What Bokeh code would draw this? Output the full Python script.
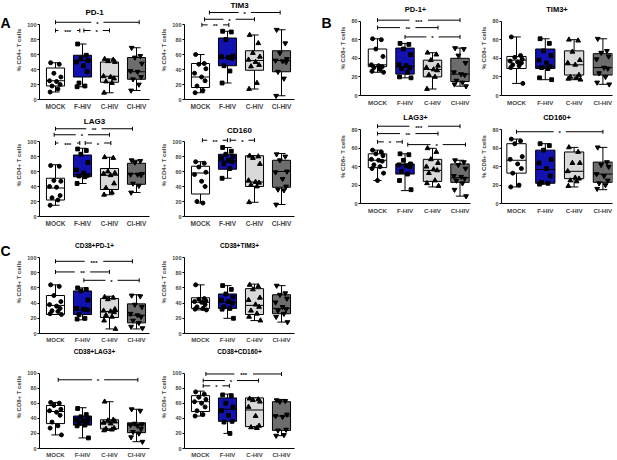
from bokeh.plotting import figure
from bokeh.layouts import row, column
from bokeh.models import Range1d, FixedTicker, GridBox
from bokeh.core.properties import value
from bokeh.embed import file_html
from bokeh.resources import INLINE

# ---------------- data ----------------
CATEGORIES = ["MOCK", "F-HIV", "C-HIV", "CI-HIV"]
PANEL_LETTERS = ["A", "B", "C"]

# box stats per group: [min, q1, median, q3, max]
A_PD1_BOX = [[10, 18, 25, 42, 49], [17, 30, 52, 59, 74], [9, 23, 31, 50, 54], [12, 27, 37, 56, 69]]
A_PD1_POINTS = [[49, 47, 35, 30, 25, 24, 20, 18, 14, 10], [74, 59, 55, 52, 50, 45, 37, 22, 18, 17],
                [54, 53, 51, 50, 31, 30, 28, 24, 22, 9], [69, 58, 56, 48, 38, 37, 30, 27, 20, 12]]
A_PD1_SIG = [(0, 3.1, 103, "*"), (0, 0.9, 92, "***"), (1.05, 2.0, 92, "*")]

A_TIM3_BOX = [[9, 16, 30, 48, 60], [22, 45, 56, 82, 91], [14, 39, 52, 65, 86], [5, 37, 52, 65, 93]]
A_TIM3_POINTS = [[60, 48, 47, 41, 35, 30, 25, 18, 12, 9], [91, 90, 80, 58, 57, 56, 55, 45, 38, 22],
                 [86, 75, 62, 57, 53, 50, 46, 44, 22, 14], [93, 75, 62, 54, 52, 51, 50, 37, 28, 5]]
A_TIM3_SIG = [(0.33, 2.95, 116, "*"), (0.15, 2.0, 107, "*"), (0.05, 1.05, 99.5, "**")]

A_LAG3_BOX = [[15, 22, 38, 51, 69], [44, 53, 56, 82, 91], [29, 36, 55, 64, 79], [32, 43, 57, 71, 75]]
A_LAG3_POINTS = [[68, 67, 48, 47, 40, 39, 28, 25, 22, 15], [90, 88, 83, 72, 62, 58, 55, 54, 53, 44],
                 [79, 78, 60, 58, 57, 55, 44, 38, 32, 29], [75, 74, 72, 57, 56, 56, 55, 44, 41, 32]]
A_LAG3_SIG = [(0, 2.85, 117, "**"), (-0.05, 2.0, 109, "*"), (0, 0.9, 98, "***"), (1.1, 2.05, 98, "*")]

A_CD160_BOX = [[18, 30, 58, 67, 73], [51, 63, 74, 83, 92], [19, 40, 46, 81, 81], [16, 39, 60, 75, 84]]
A_CD160_POINTS = [[73, 71, 66, 59, 56, 47, 40, 20, 18], [92, 87, 83, 80, 78, 75, 73, 70, 64, 51],
                  [81, 80, 78, 70, 48, 46, 45, 42, 40, 19], [83, 80, 75, 60, 59, 50, 40, 36, 35, 16]]
A_CD160_SIG = [(0.07, 1.0, 101.7, "**"), (1.1, 2.0, 101.7, "*")]

B_PD1_BOX = [[25, 31, 33, 50, 61], [19, 23, 31, 51, 56], [7, 20, 28, 38, 46], [10, 15, 23, 40, 51]]
B_PD1_POINTS = [[61, 60, 50, 42, 33, 32, 31, 30, 28, 26, 25], [56, 55, 50, 44, 33, 32, 30, 29, 25, 20, 19],
                [46, 44, 38, 32, 30, 28, 27, 22, 20, 7], [51, 50, 43, 35, 25, 23, 22, 16, 14, 12, 10]]
B_PD1_SIG = [(0, 3.0, 81, "***"), (0, 2.2, 73, "**"), (1.0, 3.0, 63, "*")]

B_TIM3_BOX = [[13, 29, 38, 42, 63], [17, 29, 31, 50, 61], [17, 22, 33, 48, 60], [12, 22, 30, 45, 61]]
B_TIM3_POINTS = [[63, 43, 41, 39, 37, 36, 35, 33, 32, 30, 13], [61, 56, 48, 43, 38, 35, 31, 30, 29, 19, 17],
                 [60, 59, 47, 38, 35, 33, 22, 20, 19, 18, 17], [61, 48, 46, 42, 39, 30, 29, 24, 20, 14, 12]]
B_TIM3_SIG = []

B_LAG3_BOX = [[25, 39, 47, 54, 58], [14, 32, 42, 43, 54], [18, 24, 36, 48, 60], [8, 23, 28, 43, 47]]
B_LAG3_POINTS = [[58, 56, 54, 52, 48, 47, 46, 42, 40, 38, 33, 25], [54, 53, 47, 43, 42, 41, 40, 35, 32, 25, 15],
                 [60, 56, 48, 44, 40, 37, 36, 33, 25, 22, 19], [47, 45, 42, 38, 30, 29, 27, 25, 22, 15, 8]]
B_LAG3_SIG = [(0, 3.0, 84, "***"), (0, 2.2, 76, "**"), (0, 0.9, 67, "*"), (1.1, 3.2, 64, "*")]

B_CD160_BOX = [[18, 33, 47, 65, 70], [21, 22, 37, 58, 65], [18, 27, 35, 56, 61], [15, 23, 32, 45, 61]]
B_CD160_POINTS = [[70, 68, 65, 51, 48, 43, 38, 33, 20, 18], [65, 63, 58, 48, 44, 38, 30, 23, 22, 21],
                  [61, 56, 44, 44, 35, 28, 27, 25, 24, 19], [61, 45, 42, 40, 32, 30, 25, 22, 20, 16]]
B_CD160_SIG = [(0, 3.0, 78, "*")]

C_PD1_BOX = [[25, 25, 37, 50, 64], [18, 25, 31, 56, 60], [6, 21, 29, 46, 49], [6, 14, 24, 39, 51]]
C_PD1_POINTS = [[64, 62, 50, 42, 38, 36, 33, 30, 29, 26, 25], [60, 58, 56, 44, 33, 32, 31, 25, 20, 19],
                [48, 47, 45, 32, 30, 29, 28, 24, 22, 17, 6], [50, 49, 38, 35, 26, 24, 22, 17, 14, 9, 7]]
C_PD1_SIG = [(0, 2.85, 95, "***"), (0, 2.0, 81, "**"), (1.05, 3.1, 70, "*")]

C_TIM3_BOX = [[31, 33, 41, 47, 64], [20, 33, 41, 52, 63], [17, 25, 37, 59, 65], [15, 26, 33, 51, 63]]
C_TIM3_POINTS = [[64, 46, 45, 43, 42, 41, 38, 35, 33, 32, 31], [63, 58, 52, 48, 44, 42, 40, 35, 33, 32, 20],
                 [64, 62, 58, 47, 44, 38, 35, 30, 26, 22, 17], [63, 53, 51, 46, 41, 35, 32, 30, 26, 22, 15]]
C_TIM3_SIG = []

C_LAG3_BOX = [[18, 33, 49, 57, 61], [14, 31, 37, 43, 54], [24, 26, 34, 38, 62], [9, 21, 31, 34, 52]]
C_LAG3_POINTS = [[61, 60, 57, 52, 50, 48, 44, 35, 30, 27, 18], [53, 45, 42, 40, 38, 37, 35, 33, 31, 30, 14],
                 [62, 38, 37, 36, 34, 33, 27, 26, 25, 24], [52, 50, 33, 32, 31, 30, 26, 22, 20, 15, 9]]
C_LAG3_SIG = [(0.1, 3.05, 91, "*")]

C_CD160_BOX = [[43, 49, 62, 70, 76], [20, 36, 52, 67, 72], [27, 29, 51, 67, 67], [17, 24, 43, 62, 65]]
C_CD160_POINTS = [[75, 72, 68, 65, 62, 60, 55, 50, 45, 43], [71, 70, 60, 55, 50, 44, 36, 35, 20],
                  [66, 65, 64, 62, 55, 43, 30, 28, 27], [64, 63, 62, 45, 43, 42, 25, 24, 18, 17]]
C_CD160_SIG = [(0.2, 3.0, 98.7, "***"), (0.1, 2.15, 90, "*"), (0.1, 1.07, 83, "*")]

TICKS_100 = [0, 20, 40, 60, 80, 100]
TICKS_80 = [0, 20, 40, 60, 80]

# ---------------- style / layout ----------------
FONT = "Liberation Sans"
FILLS = ["#ffffff", "#1212b0", "#d9d9d9", "#6d6d6d"]
MARKERS = ["circle", "square", "triangle", "inverted_triangle"]
MSIZE = [4.0, 3.8, 4.8, 4.8]
JITTER = [-0.18, 0.14, -0.06, 0.2, -0.22, 0.04, 0.17, -0.13, 0.09, -0.2, 0.22, 0.0]
BOX_W = 0.67
CAP_W = 0.3

# columns: border_left, frame_width, border_right, first-center offset (px), spacing (px)
COLS = [(39, 110, 6, 16, 27), (29, 110, 11, 16, 27), (55, 110, 4, 17, 27.5), (27, 111, 2, 15, 28.8)]


def make_panel(col, rowspec, title, ylabel, box, points, sig, yticks, title_size, cat_size):
    bl, fw, br, off, sp = COLS[col]
    top, bottom, figbottom, s, title_px = rowspec
    H = figbottom - top
    W = bl + fw + br
    x0 = -off / sp
    x1 = (fw - off) / sp
    yend = (bottom - top) / s
    p = figure(width=W, height=H, x_range=Range1d(x0, x1), y_range=Range1d(0, yend),
               toolbar_location=None, output_backend="svg",
               min_border_left=bl, min_border_right=br, min_border_top=0,
               min_border_bottom=figbottom - bottom)
    p.outline_line_color = None
    p.xgrid.visible = False
    p.ygrid.visible = False

    ya = p.yaxis[0]
    ya.bounds = (0, yticks[-1])
    ya.ticker = FixedTicker(ticks=yticks)
    ya.major_label_text_font = FONT
    ya.major_label_text_font_size = "5.5px"
    ya.major_label_text_font_style = "bold"
    ya.major_label_standoff = 1
    ya.major_tick_out = 2
    ya.major_tick_in = 0
    ya.minor_tick_line_color = None
    ya.axis_label = ylabel
    ya.axis_label_text_font = FONT
    ya.axis_label_text_font_size = "6px"
    ya.axis_label_text_font_style = "bold"
    ya.axis_label_standoff = 2
    ya.axis_line_width = 1

    xa = p.xaxis[0]
    xa.ticker = FixedTicker(ticks=[0, 1, 2, 3])
    xa.major_label_overrides = {i: c for i, c in enumerate(CATEGORIES)}
    xa.major_label_text_font = FONT
    xa.major_label_text_font_size = cat_size
    xa.major_label_text_font_style = "bold"
    xa.major_tick_out = 0
    xa.major_tick_in = 0
    xa.major_label_standoff = 3
    xa.minor_tick_line_color = None

    for i, st in enumerate(box):
        mn, q1, med, q3, mx = st
        p.segment(x0=[i, i], y0=[mn, q3], x1=[i, i], y1=[q1, mx], line_color="black", line_width=1)
        p.segment(x0=[i - CAP_W / 2, i - CAP_W / 2], y0=[mn, mx], x1=[i + CAP_W / 2, i + CAP_W / 2], y1=[mn, mx],
                  line_color="black", line_width=1)
        p.vbar(x=[i], width=BOX_W, bottom=[q1], top=[q3], fill_color=FILLS[i], line_color="black", line_width=1)
        p.segment(x0=[i - BOX_W / 2], y0=[med], x1=[i + BOX_W / 2], y1=[med], line_color="black", line_width=1)

    for i, pts in enumerate(points):
        xs = [i + JITTER[k % len(JITTER)] for k in range(len(pts))]
        p.scatter(x=xs, y=pts, marker=MARKERS[i], size=MSIZE[i], fill_color="black", line_color="black")

    cap = 2.0 / s
    for (a, b, yv, lab) in sig:
        mid = (a + b) / 2
        g = (2.0 + 1.6 * len(lab) + 2.5) / sp
        p.segment(x0=[a, mid + g], y0=[yv, yv], x1=[mid - g, b], y1=[yv, yv], line_color="black", line_width=1)
        p.segment(x0=[a, b], y0=[yv - cap, yv - cap], x1=[a, b], y1=[yv + cap, yv + cap],
                  line_color="black", line_width=1)
        p.text(x=[mid], y=[yv], text=[lab], text_font=value(FONT), text_font_size="6px",
               text_font_style="bold", text_align="center", text_baseline="middle", y_offset=1.5,
               text_color="black")

    ty = (bottom - title_px) / s
    p.text(x=[(x0 + x1) / 2], y=[ty], text=[title], text_font=value(FONT), text_font_size=title_size,
           text_font_style="bold", text_align="center", text_baseline="middle", text_color="black")
    return p


CD4 = "% CD4+ T cells"
CD8 = "% CD8+ T cells"

# rows: fig top, frame bottom, fig bottom (px), px per unit, title y (px)
R_A1 = (0, 99, 113, 0.75, 12)
R_A1b = (0, 99, 113, 0.75, 5)
R_A2 = (113, 216, 230, 0.75, 121)
R_A2b = (113, 216, 230, 0.75, 129.5)
R_C1 = (230, 333, 345, 0.76, 245)
R_C2 = (345, 448, 460, 0.755, 351)
R_B1 = (0, 95, 109, 0.93, 9)
R_B2 = (109, 203, 217, 0.92, 116.5)

pA1 = make_panel(0, R_A1, "PD-1", CD4, A_PD1_BOX, A_PD1_POINTS, A_PD1_SIG, TICKS_100, "8px", "6.5px")
pA2 = make_panel(1, R_A1b, "TIM3", CD4, A_TIM3_BOX, A_TIM3_POINTS, A_TIM3_SIG, TICKS_100, "8px", "6.5px")
pA3 = make_panel(0, R_A2, "LAG3", CD4, A_LAG3_BOX, A_LAG3_POINTS, A_LAG3_SIG, TICKS_100, "8px", "6.5px")
pA4 = make_panel(1, R_A2b, "CD160", CD4, A_CD160_BOX, A_CD160_POINTS, A_CD160_SIG, TICKS_100, "8px", "6.5px")

pB1 = make_panel(2, R_B1, "PD-1+", CD8, B_PD1_BOX, B_PD1_POINTS, B_PD1_SIG, TICKS_80, "7.5px", "6.2px")
pB2 = make_panel(3, R_B1, "TIM3+", CD8, B_TIM3_BOX, B_TIM3_POINTS, B_TIM3_SIG, TICKS_80, "7.5px", "6.2px")
pB3 = make_panel(2, R_B2, "LAG3+", CD8, B_LAG3_BOX, B_LAG3_POINTS, B_LAG3_SIG, TICKS_80, "7.5px", "6.2px")
pB4 = make_panel(3, R_B2, "CD160+", CD8, B_CD160_BOX, B_CD160_POINTS, B_CD160_SIG, TICKS_80, "7.5px", "6.2px")

pC1 = make_panel(0, R_C1, "CD38+PD-1+", CD8, C_PD1_BOX, C_PD1_POINTS, C_PD1_SIG, TICKS_100, "6.5px", "6px")
pC2 = make_panel(1, R_C1, "CD38+TIM3+", CD8, C_TIM3_BOX, C_TIM3_POINTS, C_TIM3_SIG, TICKS_100, "6.5px", "6px")
pC3 = make_panel(0, R_C2, "CD38+LAG3+", CD8, C_LAG3_BOX, C_LAG3_POINTS, C_LAG3_SIG, TICKS_100, "6.5px", "6px")
pC4 = make_panel(1, R_C2, "CD38+CD160+", CD8, C_CD160_BOX, C_CD160_POINTS, C_CD160_SIG, TICKS_100, "6.5px",
                 "6px")

main = row(column(pA1, pA3, pC1, pC3), column(pA2, pA4, pC2, pC4), column(pB1, pB3), column(pB2, pB4))

# transparent overlay (pixel coordinates) for the panel letters
ov = figure(width=615, height=460, x_range=Range1d(0, 615), y_range=Range1d(460, 0),
            toolbar_location=None, output_backend="svg", min_border=0)
ov.axis.visible = False
ov.xgrid.visible = False
ov.ygrid.visible = False
ov.outline_line_color = None
ov.background_fill_color = None
ov.border_fill_color = None
ov.text(x=[0, 321, 0], y=[22, 22, 250], text=PANEL_LETTERS, text_font=value(FONT), text_font_size="14px",
        text_font_style="bold", text_align="left", text_baseline="middle", text_color="black")

layout = GridBox(children=[(main, 0, 0), (ov, 0, 0)])

open("out.html", "w").write(file_html(layout, INLINE))
